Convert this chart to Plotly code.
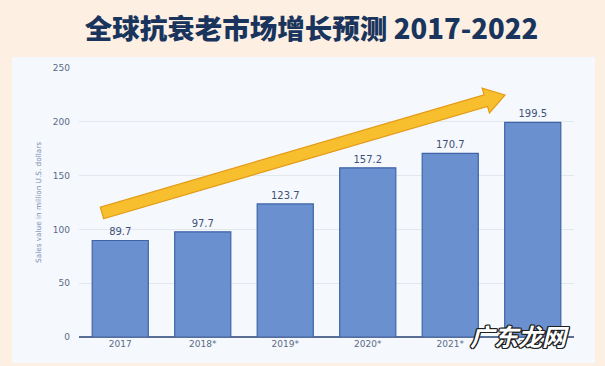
import plotly.graph_objects as go
import math

years = ["2017", "2018*", "2019*", "2020*", "2021*", "2022*"]
sales = [89.7, 97.7, 123.7, 157.2, 170.7, 199.5]
y_ticks = [0, 50, 100, 150, 200, 250]
title_text = "全球抗衰老市场增长预测 2017-2022"
y_title = "Sales value in million U.S. dollars"
watermark = "广东龙网"

W, H = 605, 366
L, R, T, B = 79, 31, 68, 29
PW, PH = W - L - R, H - T - B

def px(x):
    return (x - L) / PW

def py(y):
    return (H - B - y) / PH

fig = go.Figure()
fig.add_trace(go.Bar(
    x=years, y=sales,
    marker=dict(color="#6b90d0", line=dict(color="#3f63a6", width=1.2)),
    text=[f"{v:.1f}" for v in sales], textposition="outside",
    textfont=dict(size=10, color="#3f5079", family="DejaVu Sans"),
    cliponaxis=False, width=0.68, hoverinfo="skip",
))

# panel background
fig.add_shape(type="rect", xref="paper", yref="paper",
              x0=px(12), x1=px(595), y0=py(363), y1=py(57),
              fillcolor="#f5f9fd", line=dict(width=0), layer="below")

# arrow polygon
tx, ty = 102, 213
hx, hy = 505, 95
dx, dy = hx - tx, hy - ty
ln = math.hypot(dx, dy)
ux, uy = dx / ln, dy / ln
nx, ny = -uy, ux
sw, hw, hl = 6, 13, 20
bx, by = hx - hl * ux, hy - hl * uy
pts = [
    (tx + nx * sw, ty + ny * sw),
    (bx + nx * sw, by + ny * sw),
    (bx + nx * hw, by + ny * hw),
    (hx, hy),
    (bx - nx * hw, by - ny * hw),
    (bx - nx * sw, by - ny * sw),
    (tx - nx * sw, ty - ny * sw),
]
path = "M " + " L ".join(f"{px(a):.5f},{py(b):.5f}" for a, b in pts) + " Z"
fig.add_shape(type="path", xref="paper", yref="paper", path=path,
              fillcolor="#f7be2e", line=dict(color="#e49a14", width=1.2), layer="above")

sh = ", ".join(f"{a}px {b}px 0 #1e1e1e" for a, b in
               [(1.3, 0), (-1.3, 0), (0, 1.3), (0, -1.3), (1, 1), (-1, -1), (1, -1), (-1, 1)])
fig.add_annotation(text=watermark, xref="paper", yref="paper",
                   x=px(519), y=py(335), xanchor="center", yanchor="middle", showarrow=False,
                   font=dict(size=24, color="#ffffff", family="Noto Sans CJK SC", weight="bold",
                             style="italic", shadow=sh))

fig.update_layout(
    width=W, height=H,
    margin=dict(l=L, r=R, t=T, b=B),
    paper_bgcolor="#fdf0e3", plot_bgcolor="rgba(0,0,0,0)",
    showlegend=False,
    bargap=0.32,
    title=dict(text=title_text, x=(85 + 538) / 2 / W, xref="container",
               y=1 - 29 / H, yanchor="middle", xanchor="center",
               font=dict(size=27.5, color="#1a355d", family="Noto Sans CJK SC", weight=900)),
    xaxis=dict(showgrid=False, tickfont=dict(size=9, color="#5b6a86", family="DejaVu Sans"),
               ticks="", showline=False, zeroline=False, fixedrange=True),
    yaxis=dict(range=[0, 250], tickvals=y_ticks, gridcolor="#e3e8ef", gridwidth=1,
               zeroline=True, zerolinecolor="#5b6e96", zerolinewidth=1.5, fixedrange=True,
               tickfont=dict(size=9, color="#5b6a86", family="DejaVu Sans"), ticklabelstandoff=8,
               title=dict(text=y_title, font=dict(size=7.3, color="#7c8db3", family="DejaVu Sans"), standoff=10)),
)
fig.write_html("out.html", config={"displayModeBar": False},
               post_script="document.body.style.margin='0';document.body.style.overflow='hidden';")
